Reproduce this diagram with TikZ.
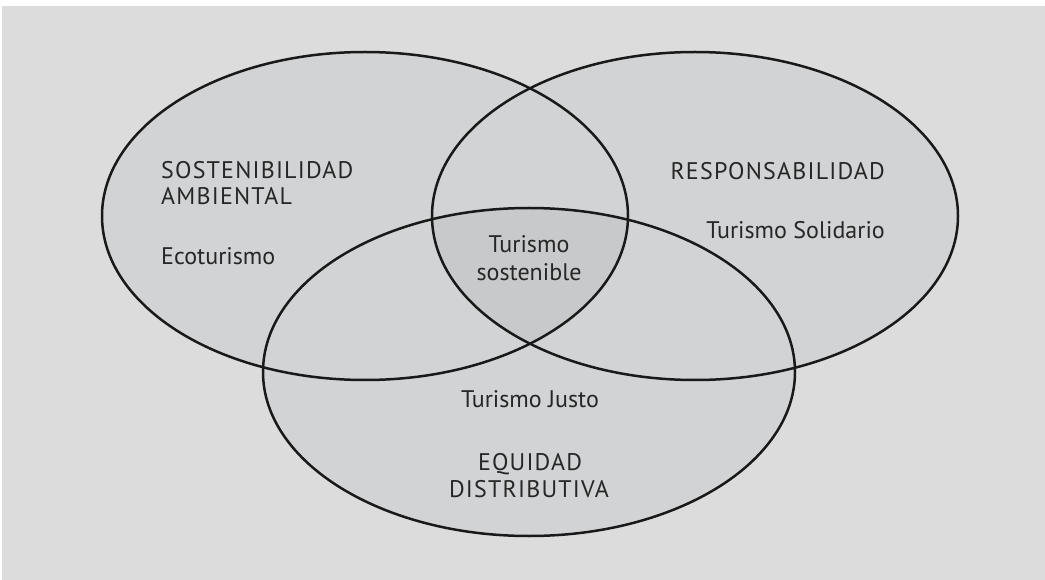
\documentclass[tikz,border=0pt]{standalone}
\usepackage{fontspec}
\setmainfont{PT Sans}
\newfontfamily\capsfont[LetterSpace=5]{PT Sans}
\usetikzlibrary{positioning}

\definecolor{pagegray}{HTML}{DCDCDD}
\definecolor{setgray}{HTML}{D2D3D4}
\definecolor{coregray}{HTML}{C8C9CA}
\definecolor{inkgray}{HTML}{262626}

\tikzset{
    setline/.style={line width=2.5pt, draw=black!90},
    label/.style={inner sep=0pt, text=inkgray, font=\fontsize{24}{28}\selectfont},
    caption/.style={label, font=\capsfont\fontsize{24}{28}\selectfont}
}

\begin{document}
\begin{tikzpicture}[x=1pt, y=-1pt]
        \useasboundingbox (0,0) rectangle (1045,580);
        \fill[pagegray] (2,6) rectangle (1045,580);
        % centres of the three sets
        \coordinate (amb) at (365,216);
        \coordinate (res) at (695,216);
        \coordinate (equ) at (529,372);
        \fill[setgray] (amb) ellipse [x radius=263, y radius=164];
        \fill[setgray] (res) ellipse [x radius=263, y radius=164];
        \fill[setgray] (equ) ellipse [x radius=266, y radius=164];
        \begin{scope}
            \clip (amb) ellipse [x radius=263, y radius=164];
            \clip (res) ellipse [x radius=263, y radius=164];
            \fill[coregray] (equ) ellipse [x radius=266, y radius=164];
        \end{scope}
        \draw[setline] (amb) ellipse [x radius=263, y radius=164];
        \draw[setline] (res) ellipse [x radius=263, y radius=164];
        \draw[setline] (equ) ellipse [x radius=266, y radius=164];
        % texts
        \node[caption, anchor=base west] (amb1) at (161,179) {SOSTENIBILIDAD};
        \node[caption, anchor=base west] (amb2) at (161,205) {AMBIENTAL};
        \node[label, anchor=base west] (eco) at (161,265) {Ecoturismo};
        \node[caption, anchor=base east] (res1) at (885,180) {RESPONSABILIDAD};
        \node[label, anchor=base east] (sol) at (885,239) {Turismo Solidario};
        \node[label, anchor=base] (sos1) at (529,253) {Turismo};
        \node[label, anchor=base] (sos2) at (529,281) {sostenible};
        \node[label, anchor=base] (jus) at (530,407) {Turismo Justo};
        \node[caption, anchor=base] (equ1) at (530,470) {EQUIDAD};
        \node[caption, anchor=base] (equ2) at (529,497) {DISTRIBUTIVA};
    \end{tikzpicture}
\end{document}
